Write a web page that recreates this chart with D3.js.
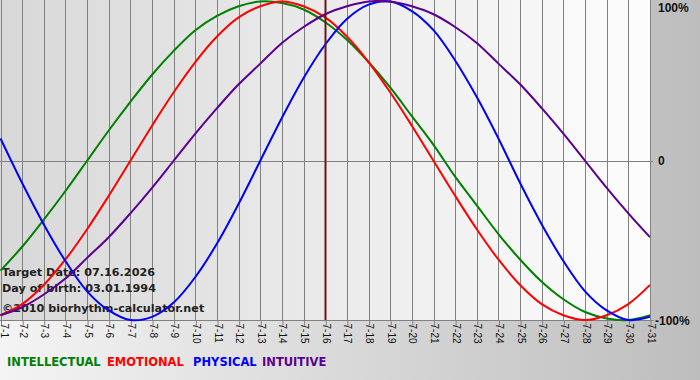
<!DOCTYPE html>
<html>
<head>
<meta charset="utf-8">
<script src="https://cdn.jsdelivr.net/npm/d3@7"></script>
<style>
  html, body { margin: 0; padding: 0; background: #fff; }
  svg { display: block; font-family: "DejaVu Sans", Verdana, sans-serif; }
  .axis text { font-size: 10px; fill: #111; }
</style>
</head>
<body>
<div id="chart"></div>
<script>
// day labels along the bottom
const dayLabels = ["7-1","7-2","7-3","7-4","7-5","7-6","7-7","7-8","7-9","7-10",
  "7-11","7-12","7-13","7-14","7-15","7-16","7-17","7-18","7-19","7-20",
  "7-21","7-22","7-23","7-24","7-25","7-26","7-27","7-28","7-29","7-30","7-31"];

// daily values (-1 .. 1)
const intellectual = [-0.69,-0.54,-0.37,-0.19,0.00,0.19,0.37,0.54,0.69,0.82,
  0.91,0.97,1.00,0.99,0.95,0.87,0.76,0.62,0.46,0.28,
  0.10,-0.10,-0.28,-0.46,-0.62,-0.76,-0.87,-0.95,-0.99,-1.00,-0.97];
const emotional = [-0.97,-0.90,-0.78,-0.62,-0.43,-0.22,0.00,0.22,0.43,0.62,
  0.78,0.90,0.97,1.00,0.97,0.90,0.78,0.62,0.43,0.22,
  0.00,-0.22,-0.43,-0.62,-0.78,-0.90,-0.97,-1.00,-0.97,-0.90,-0.78];
const physical = [0.14,-0.14,-0.40,-0.63,-0.82,-0.94,-1.00,-0.98,-0.89,-0.73,
  -0.52,-0.27,0.00,0.27,0.52,0.73,0.89,0.98,1.00,0.94,
  0.82,0.63,0.40,0.14,-0.14,-0.40,-0.63,-0.82,-0.94,-1.00,-0.98];
const intuitive = [-0.97,-0.92,-0.84,-0.74,-0.61,-0.48,-0.33,-0.17,0.00,0.17,
  0.33,0.48,0.61,0.74,0.84,0.92,0.97,1.00,1.00,0.97,
  0.92,0.84,0.74,0.61,0.48,0.33,0.17,0.00,-0.17,-0.33,-0.48];

const seriesNames = ["INTELLECTUAL", "EMOTIONAL", "PHYSICAL", "INTUITIVE"];
const seriesColors = ["#008000", "#ff0000", "#0000ff", "#5a0091"];
const yTickValues = [1, 0, -1];
const yTickLabels = ["100%", "0", "-100%"];
const targetDay = 16;
const infoLines = ["Target Date: 07.16.2026", "Day of birth: 03.01.1994", "\u00a92010 biorhythm-calculator.net"];

const width = 700, height = 380;
const plotW = 650, plotH = 320;

const svg = d3.select("#chart").append("svg")
  .attr("width", width)
  .attr("height", height);

const defs = svg.append("defs");
const bgGrad = defs.append("linearGradient").attr("id", "bgGrad")
  .attr("x1", "0%").attr("y1", "0%").attr("x2", "100%").attr("y2", "0%");
bgGrad.append("stop").attr("offset", "0%").attr("stop-color", "#f4f4f4");
bgGrad.append("stop").attr("offset", "100%").attr("stop-color", "#bdbdbd");

const plotGrad = defs.append("linearGradient").attr("id", "plotGrad")
  .attr("x1", "0%").attr("y1", "0%").attr("x2", "100%").attr("y2", "0%");
plotGrad.append("stop").attr("offset", "0%").attr("stop-color", "#d8d8d8");
plotGrad.append("stop").attr("offset", "100%").attr("stop-color", "#fdfdfd");

defs.append("clipPath").attr("id", "plotClip")
  .append("rect").attr("x", 0).attr("y", -2).attr("width", plotW).attr("height", plotH + 4);

svg.append("rect").attr("width", width).attr("height", height).attr("fill", "url(#bgGrad)");

const xScale = d3.scaleLinear().domain([1, 31]).range([0.5, plotW]);
const yScale = d3.scaleLinear().domain([-1, 1]).range([plotH, 1.5]);

svg.append("rect")
  .attr("x", 0).attr("y", 0)
  .attr("width", plotW).attr("height", plotH)
  .attr("fill", "url(#plotGrad)");

// vertical grid lines
const dayValues = dayLabels.map((d, i) => i + 1);
svg.append("g").selectAll("line")
  .data(dayValues)
  .join("line")
  .attr("x1", d => Math.round(xScale(d)) + 0.5)
  .attr("x2", d => Math.round(xScale(d)) + 0.5)
  .attr("y1", 0).attr("y2", plotH)
  .attr("stroke", "#808080")
  .attr("stroke-width", 1);

// zero line
svg.append("line")
  .attr("x1", 0).attr("x2", plotW + 3)
  .attr("y1", Math.round(yScale(0)) + 0.5).attr("y2", Math.round(yScale(0)) + 0.5)
  .attr("stroke", "#808080");

// x axis
const xAxis = d3.axisBottom(xScale)
  .tickValues(dayValues)
  .tickSize(5)
  .tickSizeOuter(0)
  .tickFormat((d, i) => dayLabels[i]);

const xAxisG = svg.append("g")
  .attr("class", "axis x-axis")
  .attr("transform", `translate(0.5, ${plotH + 0.5})`)
  .call(xAxis);
xAxisG.select(".domain").attr("stroke", "#808080").attr("d", `M-0.5,0H${plotW + 3}`);
xAxisG.selectAll(".tick line").attr("stroke", "#808080");
xAxisG.selectAll(".tick text")
  .attr("transform", "rotate(90)")
  .attr("x", 3)
  .attr("y", d => d === 1 ? -3 : 0)
  .attr("dy", "0.35em")
  .attr("text-anchor", "start");

// right axis labels
const yAxis = d3.axisRight(yScale)
  .tickValues(yTickValues)
  .tickSize(0)
  .tickPadding(0)
  .tickFormat((d, i) => yTickLabels[i]);
const yAxisG = svg.append("g")
  .attr("class", "axis y-axis")
  .attr("transform", `translate(${plotW + 5}, 0)`)
  .call(yAxis);
yAxisG.select(".domain").remove();
yAxisG.selectAll(".tick text")
  .style("font-size", "12px").style("font-weight", "bold").attr("fill", "#111")
  .attr("x", (d) => d === -1 ? 0 : 3)
  .attr("dy", (d) => d === 1 ? "0.85em" : "0.35em");

// info text
svg.append("g").selectAll("text")
  .data(infoLines)
  .join("text")
  .attr("x", 2)
  .attr("y", (d, i) => [276, 292, 312][i])
  .attr("fill", "#222")
  .style("font-size", "11.2px")
  .style("font-weight", "bold")
  .text(d => d);

// lines
const line = d3.line()
  .x((d, i) => xScale(i + 1))
  .y(d => yScale(d))
  .curve(d3.curveCatmullRom.alpha(0.5));

const allSeries = [intellectual, emotional, physical, intuitive];
svg.append("g").attr("clip-path", "url(#plotClip)")
  .selectAll("path")
  .data(allSeries)
  .join("path")
  .attr("fill", "none")
  .attr("stroke", (d, i) => seriesColors[i])
  .attr("stroke-width", 2)
  .attr("d", line);

// target day marker
svg.append("line")
  .attr("x1", Math.round(xScale(targetDay)) + 0.5)
  .attr("x2", Math.round(xScale(targetDay)) + 0.5)
  .attr("y1", 0).attr("y2", plotH)
  .attr("stroke", "#6b1616")
  .attr("stroke-width", 2);

// legend
const legendX = [7, 107, 193, 262];
svg.append("g").selectAll("text")
  .data(seriesNames)
  .join("text")
  .attr("x", (d, i) => legendX[i])
  .attr("y", 366)
  .attr("fill", (d, i) => seriesColors[i])
  .style("font-size", "11.5px")
  .style("font-weight", "bold")
  .text(d => d);
</script>
</body>
</html>
